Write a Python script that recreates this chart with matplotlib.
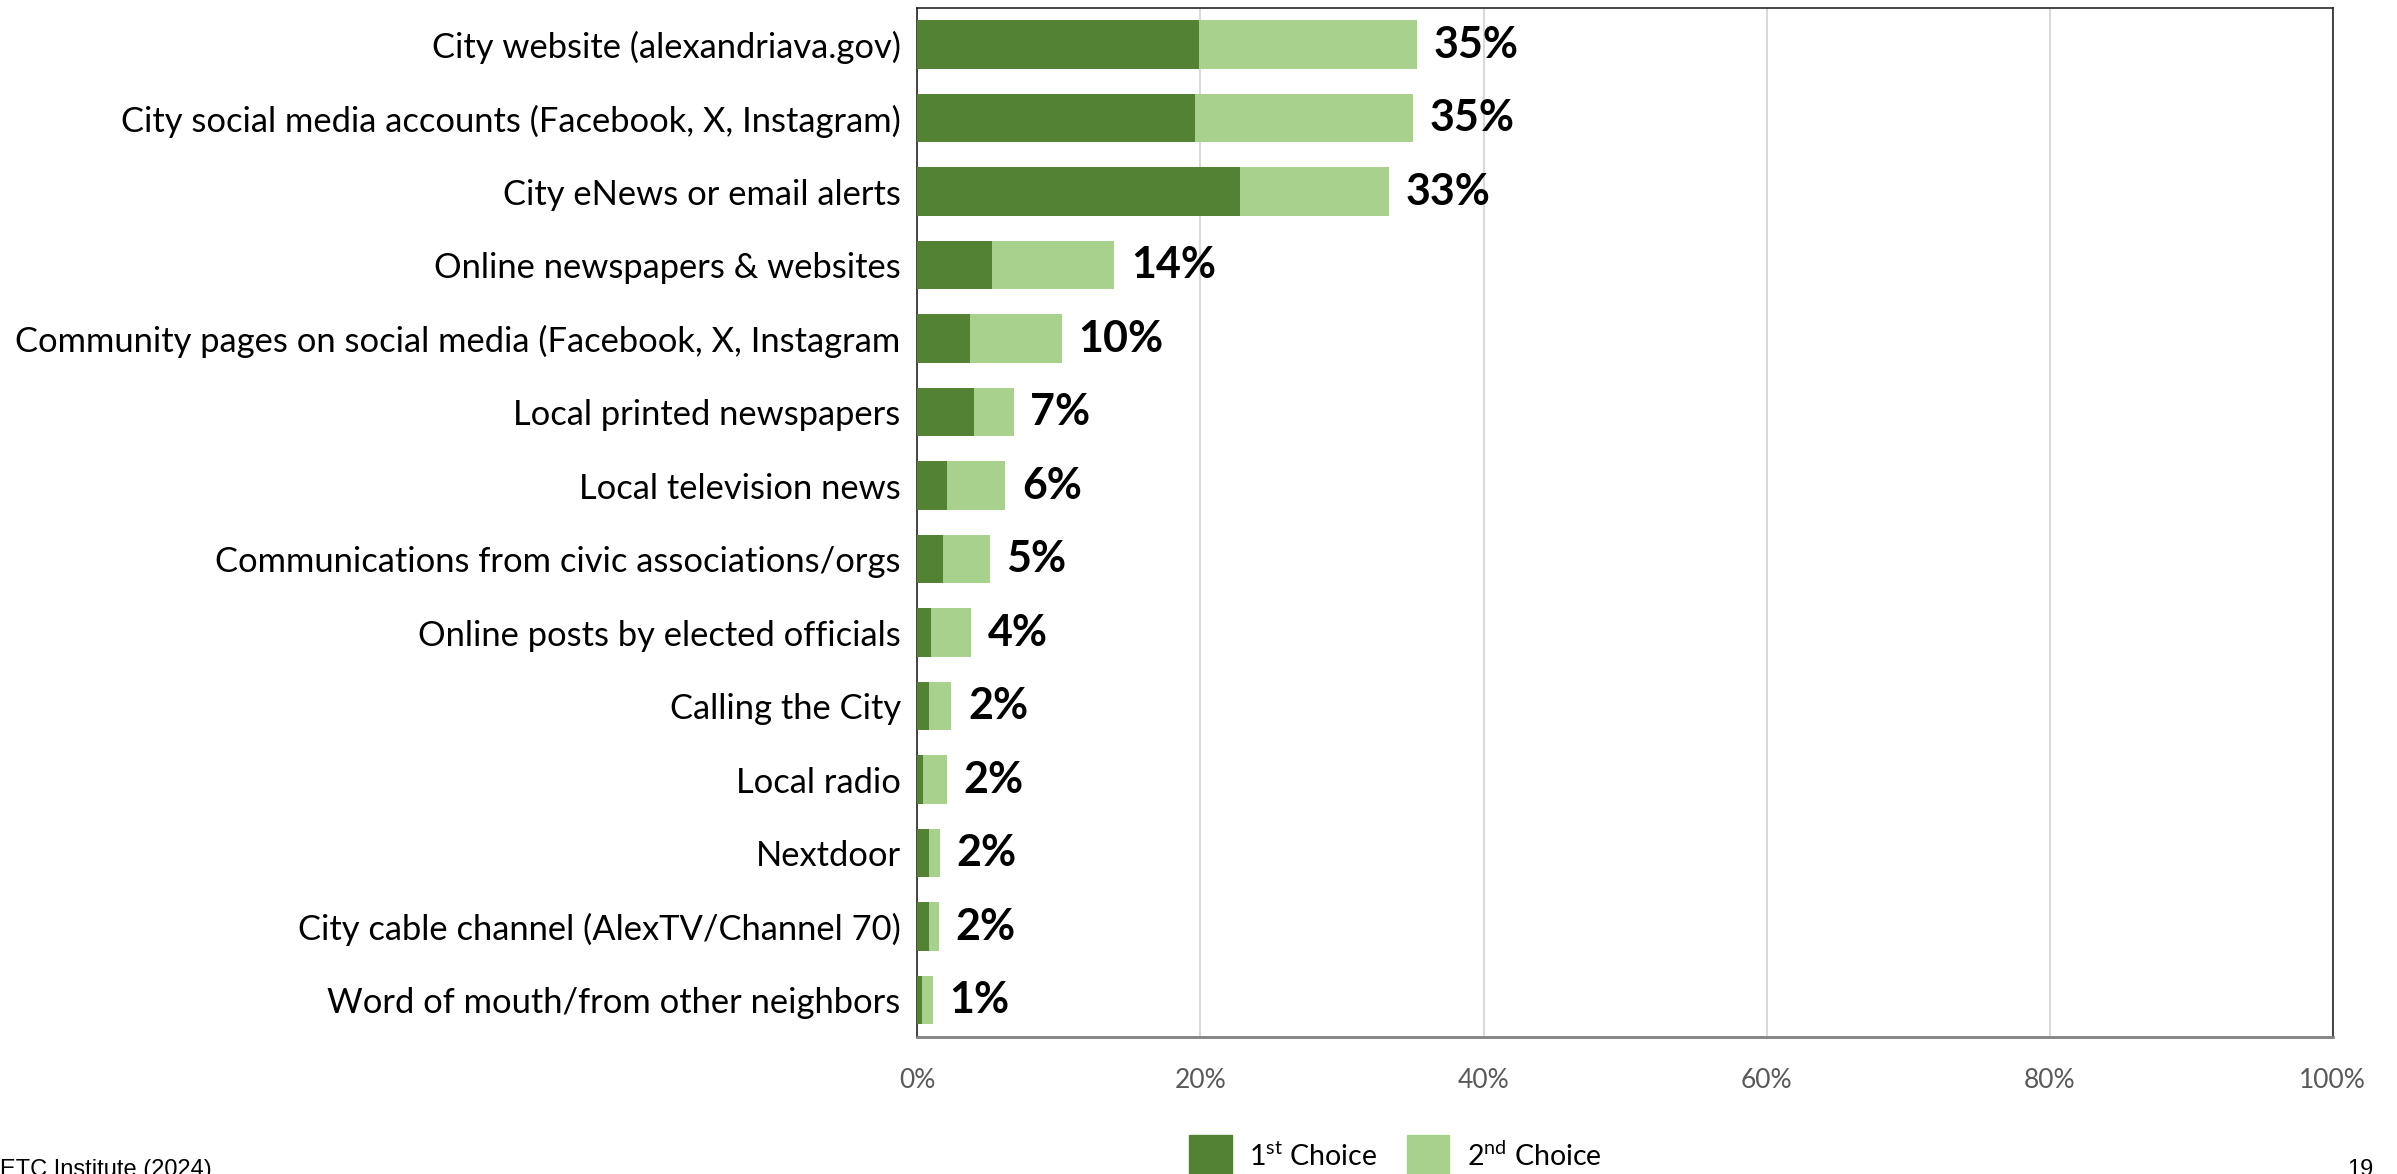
import matplotlib.pyplot as plt
from matplotlib.patches import Patch
import numpy as np

plt.rcParams['font.family'] = ['Lato', 'DejaVu Sans']
plt.rcParams['mathtext.fontset'] = 'custom'
plt.rcParams['mathtext.rm'] = 'Lato'

# survey results, percent of respondents (top to bottom)
sources = [
    "City website (alexandriava.gov)",
    "City social media accounts (Facebook, X, Instagram)",
    "City eNews or email alerts",
    "Online newspapers & websites",
    "Community pages on social media (Facebook, X, Instagram",
    "Local printed newspapers",
    "Local television news",
    "Communications from civic associations/orgs",
    "Online posts by elected officials",
    "Calling the City",
    "Local radio",
    "Nextdoor",
    "City cable channel (AlexTV/Channel 70)",
    "Word of mouth/from other neighbors",
]
first_choice = [19.9, 19.6, 22.8, 5.3, 3.7, 4.0, 2.1, 1.8, 1.0, 0.8, 0.4, 0.8, 0.8, 0.3]
both_choices = [35.3, 35.0, 33.3, 13.9, 10.2, 6.8, 6.2, 5.1, 3.8, 2.4, 2.1, 1.6, 1.5, 1.1]
second_choice = [t - f for t, f in zip(both_choices, first_choice)]

dark_green = '#548235'
light_green = '#A9D18E'

fig = plt.figure(figsize=(23.97, 11.74), dpi=100)
ax = fig.add_axes([0.3827, 0.1167, 0.5905, 0.8765])

y = np.arange(len(sources))
ax.barh(y, first_choice, height=0.66, color=dark_green, zorder=3)
ax.barh(y, second_choice, left=first_choice, height=0.66, color=light_green, zorder=3)

for yi, total in zip(y, both_choices):
    ax.annotate(f"{round(total):.0f}%", xy=(total, yi), xytext=(12, 0),
                textcoords='offset points', va='center', ha='left',
                fontsize=31, fontweight='bold', color='black')

ax.set_xlim(0, 100)
ax.set_ylim(len(sources) - 0.5, -0.5)
ax.set_yticks(y)
ax.set_yticklabels(sources, fontsize=24.8, color='black')
ax.set_xticks(np.arange(0, 101, 20))
ax.set_xticklabels([f"{v}%" for v in range(0, 101, 20)], fontsize=19, color='#595959')
ax.tick_params(axis='both', length=0)
ax.tick_params(axis='y', pad=12)
ax.tick_params(axis='x', pad=22)
ax.grid(axis='x', color='#D9D9D9', linewidth=1.5, zorder=0)

for side in ['top', 'right', 'left']:
    ax.spines[side].set_color('#262626')
    ax.spines[side].set_linewidth(1.2)
ax.spines['bottom'].set_color('#808080')
ax.spines['bottom'].set_linewidth(2)

handles = [Patch(color=dark_green), Patch(color=light_green)]
labels = ["1$^{\\mathrm{st}}$ Choice", "2$^{\\mathrm{nd}}$ Choice"]
fig.legend(handles, labels, loc='upper center', bbox_to_anchor=(0.582, 0.043),
           ncol=2, frameon=False, fontsize=20.5, handlelength=1.5, handleheight=2.0,
           handletextpad=0.6, columnspacing=1.05, borderaxespad=0)

fig.text(0.0, -0.006, "ETC Institute (2024)", fontsize=17, family='Liberation Sans',
         ha='left', va='bottom')
fig.text(0.99, -0.006, "19", fontsize=17, family='Liberation Sans', ha='right', va='bottom')

fig.savefig('out.png', dpi=100)
